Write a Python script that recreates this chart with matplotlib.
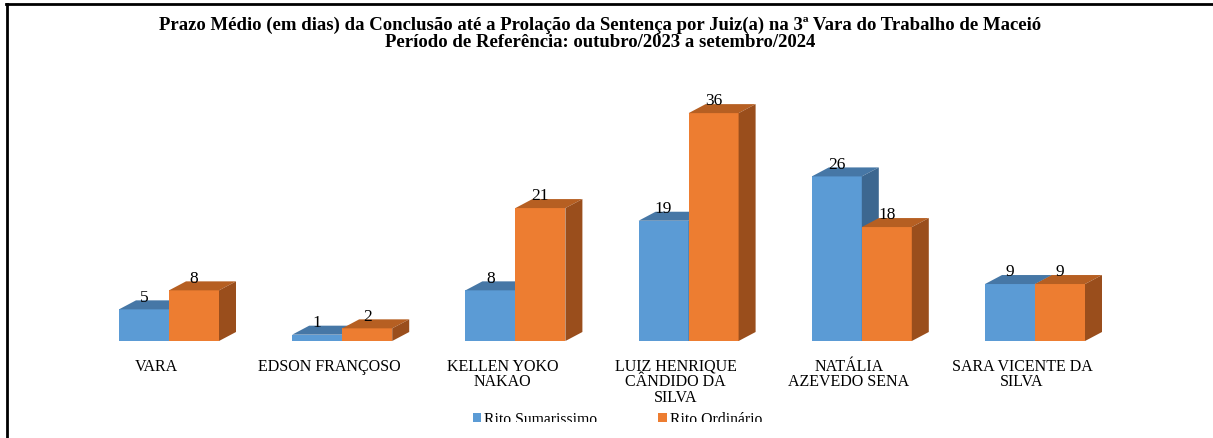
import matplotlib
matplotlib.use("Agg")
import matplotlib.pyplot as plt
from matplotlib.patches import Polygon, Patch, Rectangle
from matplotlib.lines import Line2D

categories = ["VARA", "EDSON FRANÇOSO", "KELLEN YOKO\nNAKAO",
              "LUIZ HENRIQUE\nCÂNDIDO DA\nSILVA", "NATÁLIA\nAZEVEDO SENA",
              "SARA VICENTE DA\nSILVA"]
sumarissimo = [5, 1, 8, 19, 26, 9]
ordinario = [8, 2, 21, 36, 18, 9]
series_names = ["Rito Sumarissimo", "Rito Ordinário"]
title = ("Prazo Médio (em dias) da Conclusão até a Prolação da Sentença por Juiz(a) "
         "na 3ª Vara do Trabalho de Maceió\nPeríodo de Referência: outubro/2023 a setembro/2024")

plt.rcParams['font.family'] = ['Liberation Serif', 'DejaVu Serif']

W, H = 1213, 439
fig = plt.figure(figsize=(W / 100, H / 100), dpi=100)

# axes geometry in pixels
px_left, px_right = 30, 1190
px_base, px_top = 342, 80
ax = fig.add_axes([px_left / W, (H - px_base) / H,
                   (px_right - px_left) / W, (px_base - px_top) / H])
cat_px = 173.2
x0_px = 169
xmin = (px_left - x0_px) / cat_px
xmax = (px_right - x0_px) / cat_px
ppu = 6.33
ymax = (px_base - px_top) / ppu
ax.set_xlim(xmin, xmax)
ax.set_ylim(0, ymax)
for s in ax.spines.values():
    s.set_visible(False)
ax.set_yticks([])

bw = 50 / cat_px
ddx = 17 / cat_px
ddy = 9 / ppu

front_cols = ["#5B9BD5", "#ED7D31"]
top_cols = ["#4677A6", "#B65F22"]
side_cols = ["#3C6790", "#9A4E1C"]


def bar3d(x_left, v, k):
    ax.add_patch(Rectangle((x_left, 0), bw, v, facecolor=front_cols[k],
                           edgecolor='none', zorder=2 + k))
    ax.add_patch(Polygon([(x_left, v), (x_left + bw, v), (x_left + bw + ddx, v + ddy),
                          (x_left + ddx, v + ddy)], closed=True,
                         facecolor=top_cols[k], edgecolor='none', zorder=2 + k))
    ax.add_patch(Polygon([(x_left + bw, 0), (x_left + bw + ddx, ddy),
                          (x_left + bw + ddx, v + ddy), (x_left + bw, v)], closed=True,
                         facecolor=side_cols[k], edgecolor='none', zorder=2 + k))


for i, (a, b) in enumerate(zip(sumarissimo, ordinario)):
    bar3d(i - bw, a, 0)
    bar3d(i, b, 1)
    ax.text(i - bw / 2, a + 2.0, str(a), ha='center', va='center', fontsize=12.5, zorder=5)
    ax.text(i + bw / 2, b + 2.0, str(b), ha='center', va='center', fontsize=12.5, zorder=5)

ax.set_xticks([i - 0.075 for i in range(len(categories))])
ax.set_xticklabels(categories, fontsize=11.5, linespacing=0.96)
ax.tick_params(axis='x', length=0, pad=12)

fig.text(0.4946, 1 - 34 / H, title, ha='center', va='center', fontsize=13.5,
         fontweight='bold', linespacing=1.05)

handles = [Patch(facecolor=front_cols[0]), Patch(facecolor=front_cols[1])]
fig.legend(handles, series_names, ncol=2, frameon=False, fontsize=11.3,
           loc='center', bbox_to_anchor=(0.509, 1 - 420 / H),
           handlelength=0.55, handleheight=0.55, handletextpad=0.2, columnspacing=3.85)

# crop effect at bottom
fig.add_artist(Rectangle((0, 0), 1, 16 / H, transform=fig.transFigure,
                         facecolor='white', edgecolor='none', zorder=10))

# border lines
fig.add_artist(Line2D([6 / W, 1.0], [1 - 5 / H, 1 - 5 / H], color='black', lw=2,
                      transform=fig.transFigure, zorder=11))
fig.add_artist(Line2D([7 / W, 7 / W], [0, 1 - 5 / H], color='black', lw=2,
                      transform=fig.transFigure, zorder=11))

fig.savefig("out.png", dpi=100, facecolor='white')
